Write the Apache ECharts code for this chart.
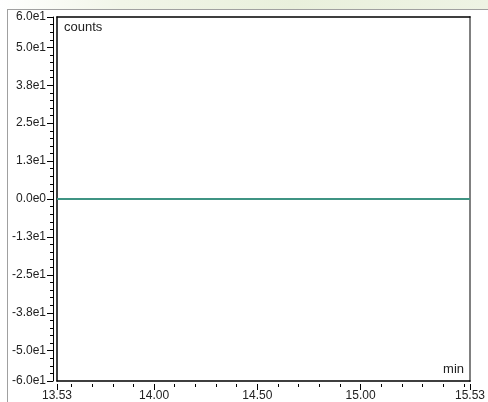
<!DOCTYPE html>
<html>
<head>
<meta charset="utf-8">
<script src="https://cdn.jsdelivr.net/npm/echarts@6/dist/echarts.min.js"></script>
<style>html,body{margin:0;padding:0;background:#fff;}#c{width:488px;height:402px;}</style>
</head>
<body>
<div id="c"></div>
<script>
// data
var timeMin = [13.53, 13.8, 14.0, 14.25, 14.5, 14.75, 15.0, 15.25, 15.53];
var counts  = [0, 0, 0, 0, 0, 0, 0, 0, 0];
var xTickValues = [13.53, 14.00, 14.50, 15.00, 15.53];
var xTickLabels = ['13.53', '14.00', '14.50', '15.00', '15.53'];
var xMinorTicks = [13.6, 13.7, 13.8, 13.9, 14.1, 14.2, 14.3, 14.4, 14.6, 14.7, 14.8, 14.9, 15.1, 15.2, 15.3, 15.4, 15.5];
var yTickValues = [-60, -50, -37.5, -25, -12.5, 0, 12.5, 25, 37.5, 50, 60];
var yTickLabels = ['-6.0e1', '-5.0e1', '-3.8e1', '-2.5e1', '-1.3e1', '0.0e0', '1.3e1', '2.5e1', '3.8e1', '5.0e1', '6.0e1'];

var chart = echarts.init(document.getElementById('c'), null, {renderer: 'canvas'});
var font = 'Liberation Sans, Arial, sans-serif';
var X0 = 13.53, X1 = 15.53, Y0 = -60, Y1 = 60;
function lab(values, labels, v) {
  for (var i = 0; i < values.length; i++) if (Math.abs(values[i] - v) < 1e-6) return labels[i];
  return '';
}
var option = {
  animation: false,
  backgroundColor: '#fff',
  grid: {left: 57, right: 17, top: 17, bottom: 20, containLabel: false},
  xAxis: [
    {type: 'value', min: X0, max: X1, position: 'bottom',
     axisLine: {show: true, onZero: false, lineStyle: {color: '#000', width: 1.5}},
     axisTick: {show: false}, axisLabel: {show: false}, splitLine: {show: false}},
    {type: 'value', min: X0, max: X1, position: 'bottom', offset: 3,
     axisLine: {show: false, onZero: false},
     axisTick: {show: true, length: 6, customValues: xTickValues, lineStyle: {color: '#000', width: 1}},
     axisLabel: {show: true, customValues: xTickValues, margin: 6, color: '#222', fontSize: 12, fontFamily: font,
       formatter: function (v) { return lab(xTickValues, xTickLabels, v); }},
     splitLine: {show: false}},
    {type: 'value', min: X0, max: X1, position: 'bottom', offset: 3,
     axisLine: {show: false, onZero: false},
     axisTick: {show: true, length: 3, customValues: xMinorTicks, lineStyle: {color: '#000', width: 1}},
     axisLabel: {show: false, customValues: xMinorTicks}, splitLine: {show: false}},
    {type: 'value', min: X0, max: X1, position: 'top',
     axisLine: {show: true, onZero: false, lineStyle: {color: '#000', width: 1.5}},
     axisTick: {show: false}, axisLabel: {show: false}, splitLine: {show: false}}
  ],
  yAxis: [
    {type: 'value', min: Y0, max: Y1, position: 'left',
     axisLine: {show: true, onZero: false, lineStyle: {color: '#000', width: 1.5}},
     axisTick: {show: false}, axisLabel: {show: false}, splitLine: {show: false}},
    {type: 'value', min: Y0, max: Y1, position: 'left', offset: 4,
     axisLine: {show: true, onZero: false, lineStyle: {color: '#000', width: 1}},
     axisTick: {show: true, length: 6, customValues: yTickValues, lineStyle: {color: '#000', width: 1}},
     axisLabel: {show: true, customValues: yTickValues, margin: 7, color: '#222', fontSize: 12, fontFamily: font,
       formatter: function (v) { return lab(yTickValues, yTickLabels, v); }},
     splitLine: {show: false}},
    {type: 'value', min: Y0, max: Y1, interval: 2.5, position: 'left', offset: 4,
     axisLine: {show: false, onZero: false},
     axisTick: {show: true, length: 3, lineStyle: {color: '#000', width: 1}},
     axisLabel: {show: false}, splitLine: {show: false}},
    {type: 'value', min: Y0, max: Y1, position: 'right',
     axisLine: {show: true, onZero: false, lineStyle: {color: '#808080', width: 2}},
     axisTick: {show: false}, axisLabel: {show: false}, splitLine: {show: false}}
  ],
  graphic: [
    {type: 'rect', left: 0, top: 0, shape: {width: 488, height: 9}, z: 0,
     style: {fill: new echarts.graphic.LinearGradient(0, 0, 1, 0, [
       {offset: 0, color: '#ffffff'}, {offset: 0.25, color: '#f1f5e8'},
       {offset: 0.6, color: '#e9f0dc'}, {offset: 1, color: '#eef3e4'}])}},
    {type: 'line', shape: {x1: 7, y1: 9.5, x2: 488, y2: 9.5}, style: {stroke: '#a0a0a0', lineWidth: 1}},
    {type: 'line', shape: {x1: 7.5, y1: 9, x2: 7.5, y2: 402}, style: {stroke: '#a0a0a0', lineWidth: 1}},
    {type: 'text', left: 64, top: 21, style: {text: 'counts', font: '13px ' + font, fill: '#222'}},
    {type: 'text', right: 24, top: 363, style: {text: 'min', font: '13px ' + font, fill: '#222'}}
  ],
  series: [{
    type: 'line', xAxisIndex: 0, yAxisIndex: 0, showSymbol: false,
    data: timeMin.map(function (t, i) { return [t, counts[i]]; }),
    lineStyle: {color: '#3f9483', width: 2}
  }]
};
chart.setOption(option);
</script>
</body>
</html>
